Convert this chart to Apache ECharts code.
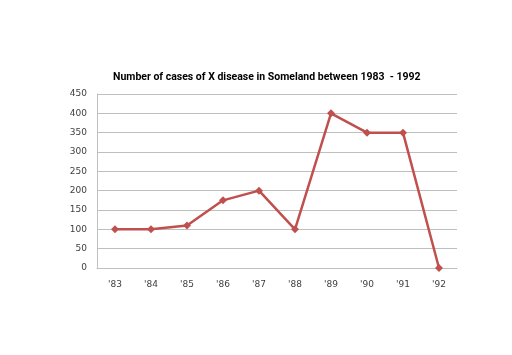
<!DOCTYPE html>
<html><head><meta charset="utf-8">
<script src="https://cdn.jsdelivr.net/npm/echarts@6/dist/echarts.min.js"></script>
<style>html,body{margin:0;padding:0;background:#fff}#c{width:512px;height:355px}</style>
</head><body><div id="c"></div>
<script>
const categories = ["'83","'84","'85","'86","'87","'88","'89","'90","'91","'92"];
const cases = [100,100,110,175,200,100,400,350,350,0];
const chart = echarts.init(document.getElementById('c'));
chart.setOption({
  animation:false,
  title:{text:'Number of cases of X disease in Someland between 1983  - 1992',left:108,top:67,
    textStyle:{fontFamily:'Roboto',fontWeight:'bold',fontSize:10.5,color:'#000'}},
  grid:{left:97,right:55,top:94,bottom:87},
  xAxis:{type:'category',data:categories,boundaryGap:true,
    axisLine:{lineStyle:{color:'#bfbfbf',width:1}},axisTick:{show:false},
    axisLabel:{color:'#404040',fontSize:9,fontFamily:'DejaVu Sans',margin:12}},
  yAxis:{type:'value',min:0,max:450,interval:50,
    axisLine:{show:true,lineStyle:{color:'#bfbfbf'}},axisTick:{show:false},
    splitLine:{lineStyle:{color:'#bfbfbf',width:1}},
    axisLabel:{color:'#404040',fontSize:9,fontFamily:'DejaVu Sans',margin:10}},
  series:[{type:'line',data:cases,symbol:'diamond',symbolSize:8,
    lineStyle:{color:'#c0504d',width:2.5},itemStyle:{color:'#c0504d'}}]
});
</script></body></html>
